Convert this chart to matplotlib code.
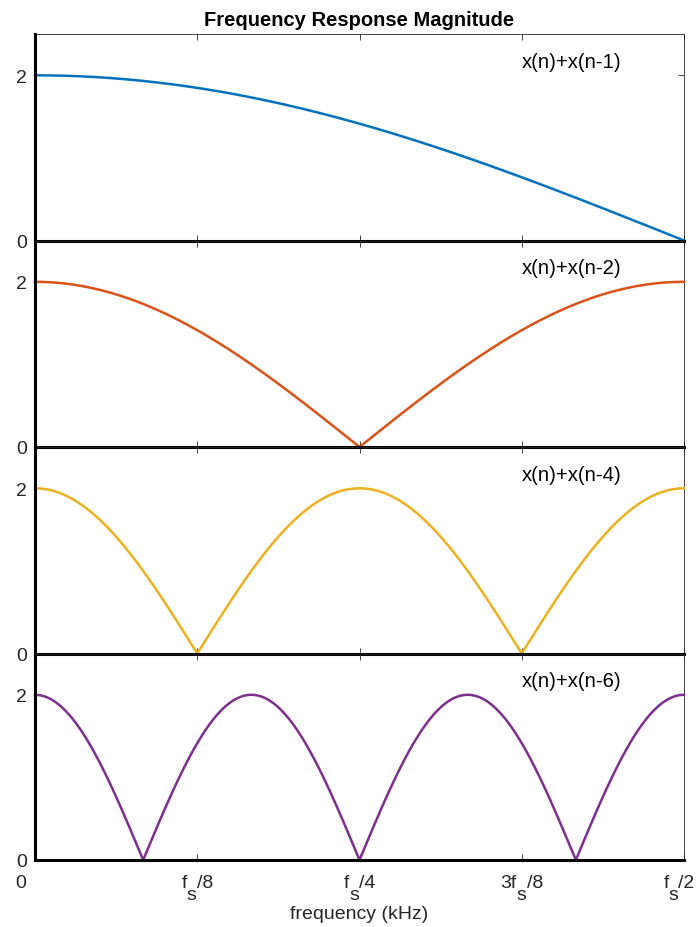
import numpy as np
import matplotlib
matplotlib.use('Agg')
import matplotlib.pyplot as plt
from matplotlib.transforms import offset_copy

plt.rcParams['font.family'] = ['Liberation Sans', 'DejaVu Sans']

# 지연 샘플 수 (x(n)+x(n-k))
delays = [1, 2, 4, 6]
labels = ['x(n)+x(n-1)', 'x(n)+x(n-2)', 'x(n)+x(n-4)', 'x(n)+x(n-6)']
colors = ['#0072BD', '#D95319', '#EDB120', '#7E2F8E']

xtick_pos = [0, np.pi / 4, np.pi / 2, 3 * np.pi / 4, np.pi]
# (앞, 아래첨자, 뒤)
xtick_parts = [('0', '', ''), ('f', 's', '/8'), ('f', 's', '/4'), ('3f', 's', '/8'), ('f', 's', '/2')]
xtick_shift = [-14, 0, 0, 0, -5]  # px
ytick_pos = [0, 2]

FS = 14
w = np.linspace(0, np.pi, 2000)

fig = plt.figure(figsize=(6.98, 9.28), dpi=100)

left = 35 / 698
width = 649 / 698
top = 1 - 35 / 928
h = (861 - 35) / 4 / 928

axes = []
for i, k in enumerate(delays):
    ax = fig.add_axes([left, top - (i + 1) * h, width, h])
    mag = np.abs(1 + np.exp(-1j * w * k))
    ax.plot(w, mag, color=colors[i], lw=1.8, clip_on=False, zorder=3)
    ax.set_xlim(0, np.pi)
    ax.set_ylim(0, 2.5)
    ax.set_yticks(ytick_pos)
    ax.set_xticks(xtick_pos)
    ax.set_xticklabels([])
    ax.tick_params(direction='in', length=4, width=0.6, top=True, right=True,
                   labelsize=FS, colors='#262626', pad=6)
    for s in ['top', 'right']:
        ax.spines[s].set_linewidth(0.6)
        ax.spines[s].set_color('#262626')
    for s in ['left', 'bottom']:
        ax.spines[s].set_linewidth(2.2)
        ax.spines[s].set_color('black')
        ax.spines[s].set_zorder(4)
    ax.text(0.75, 0.869, labels[i], transform=ax.transAxes, fontsize=14.6,
            va='center', ha='left', color='black')
    ax.patch.set_alpha(0)
    axes.append(ax)

# x축 눈금 라벨 (아래첨자 s를 크게, 아래로)
ax = axes[-1]
renderer = fig.canvas.get_renderer()
trans = ax.get_xaxis_transform()
for xv, (pre, sub, post), sh in zip(xtick_pos, xtick_parts, xtick_shift):
    pieces = [(pre, 0), (sub, -12), (post, 0)]
    widths = []
    for s, dy in pieces:
        if s == '':
            widths.append(0)
            continue
        t = fig.text(0, 0, s, fontsize=FS)
        widths.append(t.get_window_extent(renderer).width)
        t.remove()
    x0 = -sum(widths) / 2 + sh
    for (s, dy), wd in zip(pieces, widths):
        if s:
            ax.text(xv, 0, s, fontsize=FS, color='#262626', ha='left', va='baseline',
                    transform=offset_copy(trans, fig=fig, x=x0, y=-27 + dy, units='dots'),
                    clip_on=False)
        x0 += wd

fig.text((35 + 684) / 2 / 698, 1 - 20 / 928, 'Frequency Response Magnitude',
         fontsize=14.5, fontweight='bold', ha='center', va='center')
fig.text((35 + 684) / 2 / 698, 1 - 915 / 928, 'frequency (kHz)',
         fontsize=FS, color='#262626', ha='center', va='center')

fig.savefig('out.png', dpi=100)
